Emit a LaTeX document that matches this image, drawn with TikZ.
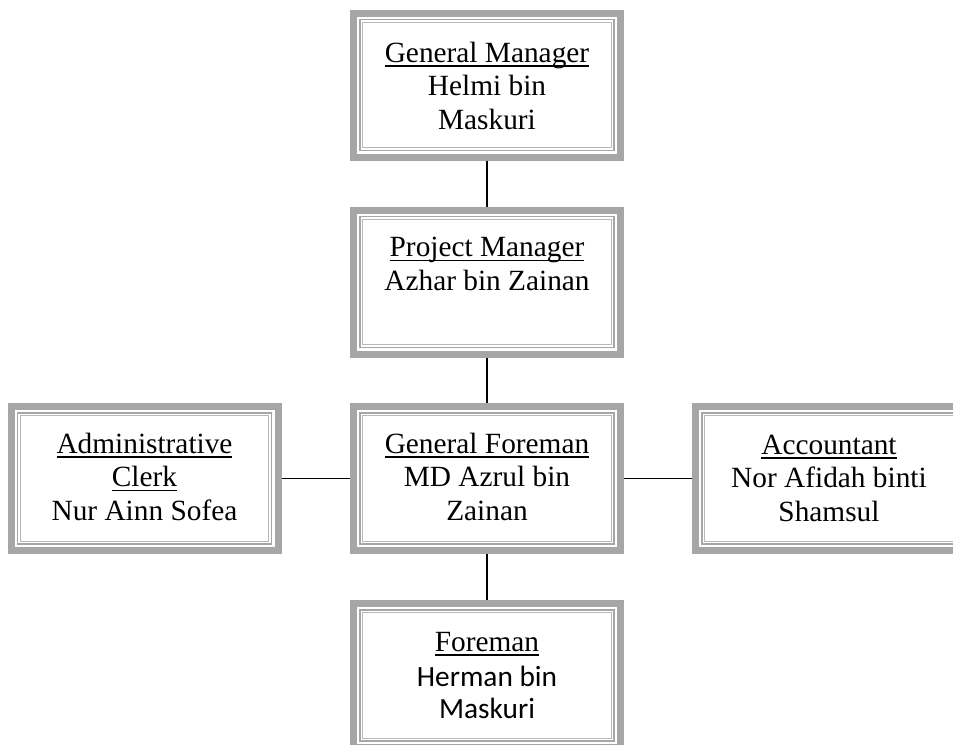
\documentclass[tikz,border=0pt]{standalone}
\usepackage{fontspec}
\setmainfont{Liberation Serif}
\newfontfamily\carlito{Carlito}
\usepackage{xcolor}
\usetikzlibrary{calc}
\definecolor{framegray}{HTML}{A6A6A6}
\definecolor{linegray}{HTML}{B8B8B8}
\newcommand{\headul}[1]{\setbox0\hbox{#1}\rlap{\rule[-3.4pt]{\wd0}{1.3pt}}\rule{0pt}{17pt}\box0}
\tikzset{
  orgbox/.style={draw=framegray, fill=white, line width=5.25pt, rectangle, inner sep=0pt,
    outer sep=2.625pt, minimum width=200.25pt, minimum height=108pt},
  orgtext/.style={align=center, anchor=north, inner sep=0pt, font=\fontsize{22}{25}\selectfont},
  innerline/.style={draw=framegray, line width=1.1pt},
  innerthin/.style={draw=linegray, line width=0.7pt},
  link/.style={line width=1.4pt}
}

\begin{document}
\begin{tikzpicture}[x=0.75pt, y=-0.75pt]
\useasboundingbox (0,0) rectangle (953,744);
\clip (0,0) rectangle (953,744);
\node[orgbox] (gm) at (487,85) {};
\node[orgbox] (pm) at (487,282) {};
\node[orgbox] (gf) at (487,478.5) {};
\node[orgbox] (clerk) at (144.5,478.5) {};
\node[orgbox] (acc) at (829,478.5) {};
\node[orgbox] (fm) at (487,675.5) {};
\foreach \n in {gm,pm,gf,clerk,acc,fm}{
  \draw[innerline] ($(\n.north west)+(10,10)$) rectangle ($(\n.south east)-(10,10)$);
  \draw[innerthin] ($(\n.north west)+(12.8,12.8)$) rectangle ($(\n.south east)-(12.8,12.8)$);
}
\node[orgtext] (gm-t) at ($(gm.north)+(0,30)$) {\headul{General Manager}\\Helmi bin\\Maskuri};
\node[orgtext] (pm-t) at ($(pm.north)+(0,27.5)$) {\headul{Project Manager}\\Azhar bin Zainan};
\node[orgtext] (gf-t) at ($(gf.north)+(0,27.5)$) {\headul{General Foreman}\\MD Azrul bin\\Zainan};
\node[orgtext] (clerk-t) at ($(clerk.north)+(0,27.5)$) {\headul{Administrative}\\\headul{Clerk}\\Nur Ainn Sofea};
\node[orgtext] (acc-t) at ($(acc.north)+(0,28.5)$) {\headul{Accountant}\\Nor Afidah binti\\Shamsul};
\node[orgtext] (fm-t) at ($(fm.north)+(0,28.5)$) {\headul{Foreman}\\[1pt]{\carlito Herman bin}\\[-1pt]{\carlito Maskuri}};
\draw[link] (gm.south) -- (pm.north);
\draw[link] (pm.south) -- (gf.north);
\draw[link] (gf.south) -- (fm.north);
\draw[link] (clerk.east) -- (gf.west);
\draw[link] (gf.east) -- (acc.west);
\end{tikzpicture}
\end{document}
